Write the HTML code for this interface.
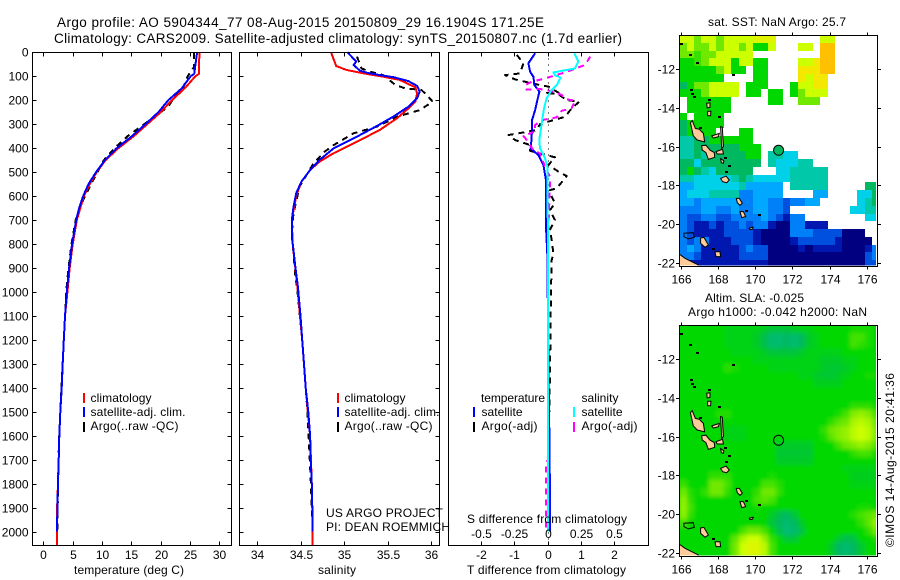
<!DOCTYPE html>
<html lang="en">
<head>
<meta charset="utf-8">
<title>Argo profile</title>
<style>
html,body{margin:0;padding:0;background:#fff;}
svg{display:block;font-family:"Liberation Sans",sans-serif;font-size:12px;fill:#000;}
.frame{fill:none;stroke:#000;stroke-width:1;shape-rendering:crispEdges;}
.title{font-size:13.5px;}
</style>
</head>
<body>
<svg id="chart" width="900" height="580" viewBox="0 0 900 580" xmlns="http://www.w3.org/2000/svg">
<rect x="0" y="0" width="900" height="580" fill="#fff"/>
<defs>
<clipPath id="clip-sst"><rect x="679.5" y="35.5" width="196.5" height="230"/></clipPath>
<clipPath id="clip-sla"><rect x="679.5" y="325.5" width="196.5" height="230"/></clipPath>
<filter id="smooth-sla" x="-5%" y="-5%" width="110%" height="110%"><feGaussianBlur stdDeviation="2.2"/></filter>
</defs>

<text class="title" x="57" y="27" textLength="487" lengthAdjust="spacing">Argo profile: AO 5904344_77 08-Aug-2015 20150809_29 16.1904S 171.25E</text>
<text class="title" x="54" y="43" textLength="568" lengthAdjust="spacing">Climatology: CARS2009. Satellite-adjusted climatology: synTS_20150807.nc (1.7d earlier)</text>

<g id="layer-temp"></g>
<g id="layer-sal"></g>
<g id="layer-diff"></g>
<g id="layer-sst"></g>
<g id="layer-sla"></g>

<text x="74" y="574" textLength="110" lengthAdjust="spacing">temperature (deg C)</text>
<text x="318" y="574" textLength="38" lengthAdjust="spacing">salinity</text>
<text x="467" y="574" textLength="159" lengthAdjust="spacing">T difference from climatology</text>
<text x="467" y="523" textLength="160" lengthAdjust="spacing">S difference from climatology</text>

<g shape-rendering="crispEdges">
<rect x="83" y="393" width="2" height="10" fill="#f00"/>
<rect x="83" y="407" width="2" height="10" fill="#00f"/>
<rect x="83" y="422" width="2" height="10" fill="#000"/>
</g>
<text x="90.5" y="402" textLength="61" lengthAdjust="spacing">climatology</text>
<text x="90.5" y="416" textLength="95" lengthAdjust="spacing">satellite-adj. clim.</text>
<text x="90.5" y="430" textLength="88" lengthAdjust="spacing">Argo(..raw -QC)</text>

<g shape-rendering="crispEdges">
<rect x="337" y="393" width="2" height="10" fill="#f00"/>
<rect x="337" y="407" width="2" height="10" fill="#00f"/>
<rect x="337" y="422" width="2" height="10" fill="#000"/>
</g>
<text x="344.5" y="402" textLength="61" lengthAdjust="spacing">climatology</text>
<text x="344.5" y="416" textLength="95" lengthAdjust="spacing">satellite-adj. clim.</text>
<text x="344.5" y="430" textLength="88" lengthAdjust="spacing">Argo(..raw -QC)</text>

<text x="326" y="517" textLength="117" lengthAdjust="spacing">US ARGO PROJECT</text>
<text x="326" y="531" textLength="124" lengthAdjust="spacing">PI: DEAN ROEMMICH</text>

<g shape-rendering="crispEdges">
<rect x="473" y="407" width="2" height="10" fill="#00f"/>
<rect x="473" y="422" width="2" height="10" fill="#000"/>
<rect x="573" y="407" width="2" height="10" fill="#0ff"/>
<rect x="573" y="422" width="2" height="10" fill="#f0f"/>
</g>
<text x="481" y="402" textLength="64" lengthAdjust="spacing">temperature</text>
<text x="481.5" y="416" textLength="41" lengthAdjust="spacing">satellite</text>
<text x="481.5" y="430" textLength="56" lengthAdjust="spacing">Argo(-adj)</text>
<text x="581.5" y="402" textLength="37" lengthAdjust="spacing">salinity</text>
<text x="581.5" y="416" textLength="41" lengthAdjust="spacing">satellite</text>
<text x="581.5" y="430" textLength="56" lengthAdjust="spacing">Argo(-adj)</text>

<text x="708" y="26" textLength="138" lengthAdjust="spacing">sat. SST: NaN Argo: 25.7</text>
<text x="705" y="302" textLength="99" lengthAdjust="spacing">Altim. SLA: -0.025</text>
<text x="688" y="316" textLength="179" lengthAdjust="spacing">Argo h1000: -0.042 h2000: NaN</text>
<text transform="translate(894,547) rotate(-90)" textLength="174" lengthAdjust="spacing">©IMOS 14-Aug-2015 20:41:36</text>

<script>
const _ = null;

/* ---------- profile data ---------- */
const depthTicks = [0,100,200,300,400,500,600,700,800,900,1000,1100,1200,1300,1400,1500,1600,1700,1800,1900,2000];
const tempTicks = [0,5,10,15,20,25,30];
const salTicks = [34,34.5,35,35.5,36];
const tDiffTicks = [-2,-1,0,1,2];
const sDiffTicks = [-0.5,-0.25,0,0.25,0.5];
const sDiffLabels = ['-0.5','-0.25','0','0.25','0.5'];
const salLabels = ['34','34.5','35','35.5','36'];

const tempSatDepth = [0,90,100,150,200,250,300,350,400,450,500,550,600,650,700,800,900,1000,1100,1200,1300,1400,1500,1600,1700,1800,1900,2000];
const tempSatValue = [26.2,25.7,25.1,23.6,21.3,19.6,17.4,15.1,12.5,10.5,9.0,7.7,6.8,6.1,5.6,4.9,4.4,4.0,3.7,3.5,3.3,3.13,2.9,2.73,2.62,2.5,2.4,2.33];
const tempClimDepth = [0,90,100,150,200,250,300,350,400,450,500,550,600,700,800,900,1000,1100,1200,1300,1400,1500,1600,1700,1800,1900,2000,2055];
const tempClimValue = [26.6,26.5,25.9,24.1,21.9,20,17.7,15.4,12.8,10.6,9.1,7.9,6.9,5.7,5,4.5,4.1,3.7,3.5,3.3,3.13,2.9,2.73,2.62,2.5,2.35,2.3,2.3];
const tempArgoDepth = [2,60,100,150,183,227,262,300,345,394,450,533,616,700,800,900,1000,1200,1400,1600,1800,2000];
const tempArgoValue = [25.7,25.7,24.6,23.8,22.4,21.3,19.3,17.2,14.6,12.4,10.3,8.5,6.8,5.5,4.8,4.3,3.9,3.5,3.1,2.7,2.5,2.4];

const salSatDepth = [0,39,53,76,85,95,104,120,140,164,192,227,268,307,359,401,449,491,540,588,644,700,769,825,894,978,1100,1200,1300,1400,1500,1600,1700,1800,1900,2000];
const salSatValue = [35.04,35.14,35.11,35.18,35.26,35.41,35.57,35.74,35.84,35.87,35.84,35.74,35.57,35.38,35.11,34.88,34.72,34.61,34.51,34.45,34.42,34.40,34.40,34.42,34.44,34.47,34.50,34.52,34.54,34.56,34.59,34.61,34.617,34.63,34.636,34.64];
const salClimDepth = [0,57,74,90,102,115,146,171,206,234,275,324,373,421,456,491,540,600,700,800,900,1000,1200,1400,1600,1800,2000,2055];
const salClimValue = [34.85,34.91,35.03,35.26,35.45,35.64,35.82,35.84,35.82,35.74,35.61,35.41,35.15,34.88,34.72,34.61,34.51,34.45,34.40,34.41,34.44,34.47,34.52,34.56,34.61,34.63,34.64,34.64];
const salArgoDepth = [18,67,81,95,136,150,157,178,206,241,268,310,338,387,414,463,560,672,755,839,936,978,1200,1500,1800,2000];
const salArgoValue = [35.15,35.2,35.3,35.45,35.59,35.70,35.89,35.95,36.02,35.87,35.62,35.38,35.11,34.88,34.78,34.65,34.49,34.42,34.40,34.42,34.44,34.46,34.52,34.58,34.62,34.64];

const dTSatDepth = [4,46,81,102,137,164,199,241,282,352,401,429,470,533,728,853,1000,1300,1700,2000];
const dTSatValue = [-0.38,-0.58,-0.53,-0.43,-0.40,-0.25,-0.31,-0.38,-0.47,-0.48,-0.51,-0.28,-0.13,-0.05,-0.05,-0.01,0,0.02,0.06,0.07];
const dSSatDepth = [4,39,67,84,95,106,137,157,192,234,296,366,401,442,477,853,1400,2000];
const dSSatValue = [0.20,0.23,0.205,0.043,0.055,0.098,0.068,0.03,-0.008,-0.028,-0.045,-0.063,-0.058,-0.02,-0.003,0.003,0.002,0.002];
const dSArgoDepth = [18,53,74,88,109,123,137,155,153,164,178,196,202,234,244,271,282,303,331,349,362,408,422,477,519,547,769,853,1400,1700,1710,2000];
const dSArgoValue = [0.32,0.28,0.18,0.105,-0.02,-0.12,-0.17,-0.16,-0.058,0.043,0.105,0.143,0.205,0.18,0.105,0.068,-0.033,-0.095,-0.095,-0.183,-0.163,-0.108,-0.058,-0.02,0.018,0.018,0.002,0.002,0.002,0.002,-0.012,-0.012];
const dTArgoDepth = [11,46,88,95,113,118,137,143,168,171,171,199,206,234,269,299,324,338,345,366,387,411,422,438,470,502,516,568,575,602,630,658,700,741,783,839,867,1000,1200,1500];
const dTArgoValue = [-0.93,-0.73,-0.83,-1.28,-0.98,-0.83,-0.23,0.02,0.32,-0.08,0.27,0.57,0.95,0.72,0.52,-0.23,-0.33,-0.88,-1.18,-0.98,-0.53,-0.53,-0.23,0.22,0.02,0.37,0.57,0.27,0.07,0.12,0.22,0.07,0.22,0.07,0.12,0.17,0.12,0.1,0.08,0.05];

/* ---------- map data: colour levels, 0.4 degree cells, north to south ---------- */
const mapLonTicks = [166,168,170,172,174,176];
const mapLatTicks = [-12,-14,-16,-18,-20,-22];
const argoLon = 171.25;
const argoLat = -16.19;
const argoSstLevel = 7;
const slaBaseLevel = 8;

const sstRows = [
[10,10,9,10,10,9,10,10,10,10,10.5,10.5,10.5,_,_,_,_,_,_,10,10,_,_,_,_,_,_],
[9,10,9,9,10,9,10,10,9,10,8,8,10,_,_,_,10,10,_,12,12,_,_,_,_,_,_],
[9,9,8.5,9,9,10,10,10,10,10,_,_,_,_,_,_,_,_,_,12,12,_,_,_,_,_,_],
[8,8,8.5,9,10,10,10,8,10,10,8,8,_,_,_,_,10,10,11,12,12,_,_,_,_,_,_],
[8,8,8,8,8,9,10,8,8,_,8,8,_,_,_,_,11,11,11,12,12,_,_,_,_,_,_],
[8,8,8,8,8,8,_,_,_,_,8,8,_,_,_,_,11,10,11,11,_,_,_,_,_,_,_],
[7,8,9,9,10,10,10,10,_,8,8,8,_,_,_,8,10,10,11,11,_,_,_,_,_,_,_],
[8,8,8,9,10,10,10,10,_,8,8,_,8,8,_,8,9,10,10,10,_,_,_,_,_,_,_],
[_,8,8,8,8,8,8,_,_,_,_,_,8,8,_,_,9,9,9,_,_,_,_,_,_,_,_],
[_,8,8,8,8,8,8,_,_,_,_,_,_,_,_,_,_,_,_,_,_,_,_,_,_,_,_],
[8,_,8,8,8,8,_,_,_,_,_,_,_,_,_,_,_,_,_,_,_,_,_,_,_,_,_],
[7,8,8,8,8,8,_,_,_,_,_,_,_,_,_,_,_,_,_,_,_,_,_,_,_,_,_],
[7,8,8,8,8,_,_,_,8,8,_,_,_,_,_,_,_,_,_,_,_,_,_,_,_,_,_],
[6,6,7,7,8,8,8,8,8,8,_,_,_,_,_,_,_,_,_,_,_,_,_,_,_,_,_],
[6,6,7,7,7,7,7,7,8,8,8,_,_,_,_,_,_,_,_,_,_,_,_,_,_,_,_],
[6,6,7,6,7,7,7,7,7,8,8,_,6,6,5,5,_,_,_,_,_,_,_,_,_,_,_],
[7,7,5,7,7,7,7,7,7,7,7,_,6,5,5,5,6,6,_,_,_,_,_,_,_,_,_],
[7,8,7,6,5,7,7,7,7,7,_,_,_,5,5,6,6,6,6,6,_,_,_,_,_,_,_],
[6,6,5,5,5,5,5,6,7,6,5,5,5,5,5,6,6,6,6,6,_,_,_,_,_,_,_],
[4,4,5,5,5,5,5,5,6,4,4,4,4,4,_,6,6,6,6,6,_,_,_,_,_,7,7],
[4,5,5,5,6,6,6,6,3,3,4,4,4,4,_,_,_,_,4,4,_,_,_,_,5,5,7],
[4,4,3,4,4,4,4,4,3,3,4,4,3,3,2,3,3,4,4,_,_,_,_,_,5,6,7],
[3,3,3,4,4,3,3,4,3,3,4,4,3,3,2,_,_,_,_,_,_,_,_,5,5,6,6],
[3,2,2,3,3,2,2,3,3,3,3,4,3,2,1,3,3,_,_,_,_,_,_,_,_,5,5],
[3,2,1,1,2,1,2,2,3,2,3,3,1,0,0,3,3,1,1,1,_,_,_,_,_,_,_],
[3,2,1,1,1,1,2,2,2,2,1,0,0,0,0,3,3,3,2,2,2,2,0,0,0,_,_],
[3,2,3,3,1,1,1,2,2,2,1,0,0,0,0,1,2,2,2,2,2,1,0,0,0,0,_],
[3,4,3,1,1,1,1,1,2,3,2,2,0,0,0,0,1,0,1,1,1,1,0,0,0,1,3],
[3,3,2,1,1,1,1,1,2,2,2,2,0,0,0,0,0,0,0,0,0,0,0,0,0,2,3],
[1,1,1,1,1,1,1,1,1,1,1,1,0,0,0,0,0,0,0,0,0,0,0,0,0,2,2]
];

const slaRows = [
[8,8,8,8,8,8,7.8,7.8,7.8,7.8,7.8,7.6,7.4,7.4,7.4,7.6,7.8,7.8,8,8,8,8,8,8.2,8.2,8.2,8],
[8,8,8,8,8,8,7.8,7.8,7.8,7.8,7.6,7.2,6.8,6.8,7,6.8,7,7.6,7.8,8,8,8,8,8.6,8.6,8.2,8],
[8,8,8,8,8,8,7.8,7.8,7.8,7.8,7.6,7.2,6.8,6.8,7,6.8,7,7.6,7.8,8,8,8,8,8.6,8.4,8.2,8],
[8,8,8,8,8,8,8,7.8,7.8,7.8,7.8,7.6,7.4,7.4,7.4,7.4,7.6,7.8,7.8,7.8,7.8,7.8,8,8,8,8,8],
[8,8,8,8,8,8,8,8,8,8,7.8,7.8,7.8,7.8,7.8,7.8,7.8,7.8,7.8,7.6,7.6,7.6,7.8,7.8,8,8,8],
[8,8,8,8,8,8,8.4,8.2,8,8,8,8,7.8,7.8,7.8,7.8,7.8,7.8,7.8,7.6,7.5,7.5,7.6,7.8,8,8,8],
[8,8,8,8,8,8,8,8,8,8,8,8,8,8,8,8,7.8,7.8,7.6,7.5,7.5,7.6,7.8,8,8,8.2,8.2],
[8,8,8,8,8,8,8,8,8,8,8,8,8,8,8,8,8,8,7.7,7.7,7.7,7.7,8,8,8,8,8],
[8,8,8,8,8,8,8,8,8,8,8,8,8,8,8,8,8,8,8,8,8,8,8,8,8,8,8],
[8,8,8,8,8,8,8,8,8,8,8,8,8,8,8,8,8,8,8,8,8,8,8,8,8,8,8],
[8,8,8,8,8,8,8,8,8,8,8,8,8,8,8,8,8,8,8,8,8,8,8,8.4,8.4,8.4,8.2],
[8,8,8,8,8,8.3,8.3,8,8,8,8,8,8,8,8,8,8,8,8,8,8,8.2,8.6,9.2,9.4,9.2,8.6],
[8,8,8,8,8,8,8,8,8,8,8,8,8,8,8,8,8,8,8,8,8.4,8.8,9,9.6,9.8,9.6,9],
[8,8,8,8,8,8,7.8,7.8,7.8,8,8,8,8,8,8,8,8,8,8,8.4,9,9.2,9.4,9.8,10,9.8,9.2],
[8,8,8,8,8,8,7.8,7.8,7.8,8,8,8,8,8,8,8,8,8,8,8.2,8.8,9.2,9.4,9.8,10,9.8,9.2],
[8,8,8,8,8,8,8,8,8,8,8,8,8,7.6,7.6,7.6,7.6,7.6,8,8,8,8.6,9,9.2,9.4,9.2,8.8],
[8,8,8,8,8,8,8,8,8,8,8,8,8,7.5,7.5,7.5,7.5,7.5,8,8,8,8,8,8.4,8.6,8.6,8.2],
[8,8,8,8,8,8,8,8,8,8,8,8,8,7.6,7.6,7.6,7.6,7.6,8,8,8,8,8,8,8,8,8],
[8,8,8,8,8,8,8,8,8,8,8,8,8,8,8,8,8,8,8,8,8,8,7.8,7.8,7.8,7.8,7.8],
[8,8,8,8,8.4,8.4,8.4,8,8,8,8,8,8.2,8,8,8,8,8,8,8,8,8,8,7.7,7.7,7.7,7.7],
[8.5,8,8,8,9,9,8.6,8,8,8,8,8.6,8.6,8.3,8,8,8,8,8,8,8,8,8,7.8,7.8,7.8,7.8],
[9,8.3,8,8.4,9,9,8.4,8,8,8,8.4,9,9,8.4,8,8,8,8,8,8,8,8,8,8,8,8,8],
[9.3,8.4,8,8,8,8,8,8,8,8,8.6,8.8,8.6,8,8,8,8,8,8,8,8,8,8,8,8,8,8],
[9.4,8.6,8,8,8,8,8,8,8,8,8.2,8,8,8,8,8,8,8,8,8,8,8,8,8,8.2,8.2,8],
[9.3,8.4,8,8,8,8,8,8,8,8,8,8,7.6,7.2,7,7.4,8,8,8,8,8,8,8,8.3,8.6,8.8,9],
[8.6,8,8,8,8,8,8,8,8,8,8,8,7.4,7,6.8,7,7.6,8,8,8,8,8,8,8,8.4,8.8,9.4],
[8,8,8,8,8,8,8,8,8.6,9,9,8.6,8,7.2,6.7,6.8,7.3,8,8,8,8,8,8,8,8,8.4,9],
[8,8,8,8,8,8,8,8.8,9.6,10,10,9.4,8.4,8,7.4,7.4,8,8,8,8,8,7.6,7.2,7.3,8,8,8.2],
[8,8,8,8,8,8,8,9,10,10.4,10.4,9.8,8.6,8,8,8,8,8,8,8,7.6,7,6.8,7,7.5,8,8],
[8,8,8,8,8,8,8,9,10,10.4,10.3,9.8,8.6,8,8,8,8,8,8,8,7.6,7,6.8,7,7.5,8,8]
];

/* ---------- land: rings and specks in lon/lat ---------- */
const islandRings = [
[[166.49,-14.77],[166.59,-14.66],[166.76,-15.06],[166.97,-15.11],[167.19,-15.32],[167.26,-15.75],[166.86,-15.66],[166.65,-15.45]],
[[167.10,-15.95],[167.33,-15.93],[167.55,-16.18],[167.78,-16.31],[167.80,-16.55],[167.46,-16.66],[167.33,-16.31],[167.13,-16.18]],
[[167.64,-15.45],[168.05,-15.32],[168.00,-15.49],[167.73,-15.56]],
[[168.12,-14.97],[168.21,-15.0],[168.27,-16.0],[168.18,-16.09]],
[[167.87,-16.26],[168.23,-16.14],[168.27,-16.38],[167.94,-16.38]],
[[168.12,-16.62],[168.3,-16.73],[168.27,-16.86],[168.16,-16.83]],
[[168.12,-17.64],[168.41,-17.52],[168.59,-17.72],[168.45,-17.86],[168.23,-17.81]],
[[168.97,-18.67],[169.13,-18.67],[169.29,-18.92],[169.17,-19.03],[169.02,-18.89]],
[[169.17,-19.35],[169.35,-19.35],[169.47,-19.61],[169.26,-19.66]],
[[169.67,-20.20],[169.88,-20.16],[169.85,-20.26],[169.71,-20.28]],
[[167.04,-20.71],[167.22,-20.68],[167.46,-21.07],[167.28,-21.19],[167.04,-20.99]],
[[167.82,-21.42],[168.09,-21.42],[168.12,-21.67],[167.87,-21.67]],
[[165.89,-21.54],[166.2,-21.76],[166.92,-22.1],[166.92,-22.2],[165.89,-22.2]],
[[167.37,-13.77],[167.55,-13.74],[167.55,-13.98],[167.4,-14.01]],
[[167.42,-14.18],[167.6,-14.18],[167.58,-14.41],[167.42,-14.41]]
];
const atollRings = [
[[166.14,-20.47],[166.65,-20.44],[166.70,-20.68],[166.38,-20.76],[166.14,-20.64]]
];
const landSpecks = [
[166.49,-11.28],[166.86,-11.67],[165.96,-10.71],[168.77,-12.33],[166.5,-13.1],[166.6,-13.3],[166.68,-13.45],[168.01,-14.46],[166.99,-15.06],
[168.35,-16.6],[168.55,-17.0],[168.4,-17.3],[167.7,-21.3],[169.5,-19.3],[170.2,-19.55],[167.5,-13.6],[166.6,-10.1]
];

/* ---------- colour scale ---------- */
const colourStops = ['#000080','#0018b0','#0050e0','#0080f8','#00a8ff','#00d0e8','#00c8a8','#00b860','#00d800','#70e800','#ccff00','#f4e800','#ffc000'];

/* ---------- axis functions ---------- */
const depthY = d => 52.3 + d * 0.2397;
const tempX = t => 43.3 + t * 5.87;
const salX = s => 257 + (s - 34) * 87;
const tDiffX = v => 547.7 + v * 33.25;
const sDiffX = v => 547.7 + v * 133;
const lonX = lon => 681.3 + (lon - 166) * 18.53;
const sstLatY = lat => 69 + (-12 - lat) * 19.4;
const slaLatY = lat => 359 + (-12 - lat) * 19.4;

const NS = 'http://www.w3.org/2000/svg';
function make(parent, tag, props) {
  const el = document.createElementNS(NS, tag);
  for (const k in props) el.setAttribute(k, props[k]);
  parent.appendChild(el);
  return el;
}
function label(parent, x, y, str, anchor) {
  const el = make(parent, 'text', {x: x, y: y, 'text-anchor': anchor});
  el.textContent = str;
  return el;
}
function colourOf(level) {
  const lo = Math.max(0, Math.min(colourStops.length - 1, Math.floor(level)));
  const hi = Math.min(colourStops.length - 1, lo + 1);
  const f = level - lo;
  const parse = h => [1, 3, 5].map(i => parseInt(h.substr(i, 2), 16));
  const a = parse(colourStops[lo]);
  const b = parse(colourStops[hi]);
  return 'rgb(' + a.map((v, i) => Math.round(v + (b[i] - v) * f)).join(',') + ')';
}
function profile(parent, name, depths, values, xFn, colour, dashed) {
  const pts = depths.map((d, i) => xFn(values[i]).toFixed(1) + ',' + depthY(d).toFixed(1)).join(' ');
  const el = make(parent, 'polyline', {
    points: pts, fill: 'none', stroke: colour, 'stroke-width': 2,
    'shape-rendering': 'crispEdges', 'stroke-linejoin': 'round'
  });
  if (dashed) el.setAttribute('stroke-dasharray', '6 5');
  
  
}
function panelFrame(parent, name, x0, x1, y0, y1) {
  const el = make(parent, 'rect', {x: x0, y: y0, width: x1 - x0, height: y1 - y0, 'class': 'frame'});
  
  
}
function tickMark(parent, name, x1, y1, x2, y2) {
  const el = make(parent, 'line', {x1: x1, y1: y1, x2: x2, y2: y2, stroke: '#000', 'stroke-width': 1, 'shape-rendering': 'crispEdges'});
  
  
}
function snap(v) { return Math.round(v) + 0.5; }

const top_ = 52.5, bottom_ = 545.5;

function depthAxis(parent, x0, x1, withLabels) {
  depthTicks.forEach(d => {
    const y = snap(depthY(d));
    tickMark(parent, 'depth-tick', x0, y, x0 + 4, y);
    tickMark(parent, 'depth-tick', x1 - 4, y, x1, y);
    if (withLabels) {
      const t = label(parent, 28.5, y + 4, String(d), 'end');
      
      
    }
  });
}
function xAxis(parent, ticks, labels, xFn, baseline, marks) {
  ticks.forEach((v, i) => {
    const x = snap(xFn(v));
    if (marks) {
      tickMark(parent, 'x-tick', x, top_, x, top_ + 4);
      tickMark(parent, 'x-tick', x, bottom_ - 4, x, bottom_);
    }
    const t = label(parent, x, baseline, labels[i], 'middle');
    
    
  });
}

/* temperature panel */
const gT = document.getElementById('layer-temp');
profile(gT, 'temperature-argo-line', tempArgoDepth, tempArgoValue, tempX, '#000', true);
profile(gT, 'temperature-climatology-line', tempClimDepth, tempClimValue, tempX, '#f00', false);
profile(gT, 'temperature-satellite-line', tempSatDepth, tempSatValue, tempX, '#00f', false);
panelFrame(gT, 'temperature-plot-frame', 32.5, 231.5, top_, bottom_);
depthAxis(gT, 32.5, 231.5, true);
xAxis(gT, tempTicks, tempTicks.map(String), tempX, 559, true);

/* salinity panel */
const gS = document.getElementById('layer-sal');
profile(gS, 'salinity-argo-line', salArgoDepth, salArgoValue, salX, '#000', true);
profile(gS, 'salinity-climatology-line', salClimDepth, salClimValue, salX, '#f00', false);
profile(gS, 'salinity-satellite-line', salSatDepth, salSatValue, salX, '#00f', false);
panelFrame(gS, 'salinity-plot-frame', 239.5, 439.5, top_, bottom_);
depthAxis(gS, 239.5, 439.5, false);
xAxis(gS, salTicks, salLabels, salX, 559, true);

/* difference panel */
const gD = document.getElementById('layer-diff');
const zeroLine = make(gD, 'line', {x1: snap(tDiffX(0)), y1: top_, x2: snap(tDiffX(0)), y2: bottom_, stroke: '#000', 'stroke-width': 1, 'stroke-dasharray': '1 5', 'shape-rendering': 'crispEdges'});


profile(gD, 't-argo-difference-line', dTArgoDepth, dTArgoValue, tDiffX, '#000', true);
profile(gD, 't-satellite-difference-line', dTSatDepth, dTSatValue, tDiffX, '#00f', false);
profile(gD, 's-argo-difference-line', dSArgoDepth, dSArgoValue, sDiffX, '#f0f', true);
profile(gD, 's-satellite-difference-line', dSSatDepth, dSSatValue, sDiffX, '#0ff', false);
panelFrame(gD, 'difference-plot-frame', 448.5, 648.5, top_, bottom_);
xAxis(gD, tDiffTicks, tDiffTicks.map(String), tDiffX, 559, true);
xAxis(gD, sDiffTicks, sDiffLabels, sDiffX, 538, false);

/* maps */
function drawMap(gid, rows, latY, clipId, frameTop, frameBottom, labelBaseline, prefix, smooth) {
  const g = document.getElementById(gid);
  const clipGroup = make(g, 'g', {'clip-path': 'url(#' + clipId + ')'});
  
  
  if (smooth) {
    const base = make(clipGroup, 'rect', {x: 679.5, y: frameTop, width: 196.5, height: 230, fill: colourOf(slaBaseLevel)});
    
    
  }
  const cells = make(clipGroup, 'g', {'shape-rendering': 'crispEdges'});
  if (smooth) cells.setAttribute('filter', 'url(#smooth-sla)');
  
  
  const lon0 = 165.89, dLon = 0.4, lat0 = -10.25, dLat = 0.4;
  rows.forEach((row, r) => {
    row.forEach((v, c) => {
      if (v === null) return;
      const x0 = Math.round(lonX(lon0 + c * dLon));
      const x1 = Math.round(lonX(lon0 + (c + 1) * dLon));
      const y0 = Math.round(latY(lat0 - r * dLat));
      const y1 = Math.round(latY(lat0 - (r + 1) * dLat));
      const cell = make(cells, 'rect', {x: x0, y: y0, width: x1 - x0, height: y1 - y0, fill: colourOf(v)});
      
      
    });
  });
  const land = make(g, 'g', {'clip-path': 'url(#' + clipId + ')'});
  
  
  islandRings.forEach(ring => {
    const p = make(land, 'polygon', {points: ring.map(q => lonX(q[0]).toFixed(1) + ',' + latY(q[1]).toFixed(1)).join(' '), fill: '#ffcc99', stroke: '#000', 'stroke-width': 1});
    
    
  });
  atollRings.forEach(ring => {
    const p = make(land, 'polygon', {points: ring.map(q => lonX(q[0]).toFixed(1) + ',' + latY(q[1]).toFixed(1)).join(' '), fill: 'none', stroke: '#000', 'stroke-width': 1});
    
    
  });
  landSpecks.forEach(q => {
    const s = make(land, 'rect', {x: Math.round(lonX(q[0])) - 1, y: Math.round(latY(q[1])) - 1, width: 3, height: 2, fill: '#000', 'shape-rendering': 'crispEdges'});
    
    
  });
  panelFrame(g, prefix + '-frame', 679.5, 877.5, frameTop, frameBottom);
  mapLonTicks.forEach(lon => {
    const x = snap(lonX(lon));
    tickMark(g, 'lon-tick', x, frameTop - 3, x, frameTop);
    tickMark(g, 'lon-tick', x, frameBottom, x, frameBottom + 3);
    const t = label(g, x, labelBaseline, String(lon), 'middle');
    
    
  });
  mapLatTicks.forEach(lat => {
    const y = snap(latY(lat));
    tickMark(g, 'lat-tick', 676, y, 679.5, y);
    tickMark(g, 'lat-tick', 877.5, y, 881, y);
    const t = label(g, 675, y + 4, String(lat), 'end');
    
    
  });
  return g;
}

const gSst = drawMap('layer-sst', sstRows, sstLatY, 'clip-sst', 35.5, 266.5, 283.5, 'sst', false);
const halo = make(gSst, 'circle', {cx: lonX(argoLon), cy: sstLatY(argoLat), r: 5, fill: colourOf(argoSstLevel), stroke: '#000', 'stroke-width': 1});



const gSla = drawMap('layer-sla', slaRows, slaLatY, 'clip-sla', 325.5, 556.5, 573.5, 'sla', true);
const ring = make(gSla, 'circle', {cx: lonX(argoLon), cy: slaLatY(argoLat), r: 5, fill: 'none', stroke: '#000', 'stroke-width': 1});


</script>
</svg>
</body>
</html>
